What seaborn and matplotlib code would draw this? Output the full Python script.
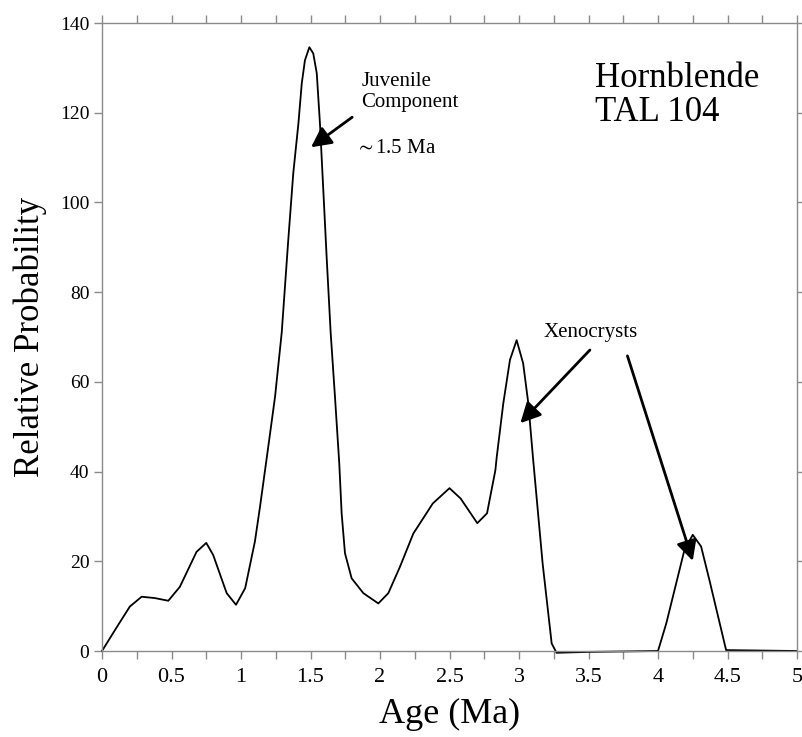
import matplotlib
matplotlib.use("Agg")
import matplotlib.pyplot as plt
import seaborn as sns
import numpy as np
import pandas as pd

# ---- data ----
age = [0.0, 0.1, 0.2, 0.285, 0.38, 0.477, 0.56, 0.68, 0.75, 0.80, 0.85, 0.897,
       0.964, 1.03, 1.10, 1.137, 1.196, 1.245, 1.293, 1.34, 1.376, 1.413,
       1.437, 1.46, 1.492, 1.52, 1.545, 1.568, 1.592, 1.616, 1.645, 1.676,
       1.707, 1.724, 1.748, 1.796, 1.88, 1.988, 2.06,
       2.144, 2.24, 2.38, 2.50, 2.58, 2.70, 2.77, 2.83, 2.84, 2.887, 2.935,
       2.983, 3.03, 3.067, 3.10, 3.17, 3.235, 3.27, 3.5, 4.0, 4.06, 4.19, 4.25,
       4.31, 4.37, 4.49, 5.0]
prob = [0.0, 5.0, 9.9, 12.1, 11.8, 11.2, 14.3, 22.1, 24.1, 21.4, 17.0, 12.9,
        10.3, 14.0, 24.4, 32.2, 45.5, 56.7, 71.0, 91.6, 106.5, 117.6,
        126.5, 131.7, 134.6, 133.2, 128.8, 117.6, 102.8, 87.9, 71.0, 56.7,
        41.8, 30.7, 21.8, 16.2, 12.9, 10.6, 12.9,
        18.8, 26.2, 32.9, 36.3, 34.0, 28.5, 30.7, 40.3, 43.3, 55.2, 64.9,
        69.3, 64.1, 55.2, 43.3, 19.5, 1.7, -0.4, -0.2, 0.0, 6.2, 22.5, 25.9,
        23.3, 15.8, 0.2, 0.0]

x_ticks = [0, 0.5, 1, 1.5, 2, 2.5, 3, 3.5, 4, 4.5, 5]
x_tick_labels = ["0", "0.5", "1", "1.5", "2", "2.5", "3", "3.5", "4", "4.5", "5"]
y_ticks = [0, 20, 40, 60, 80, 100, 120, 140]

df = pd.DataFrame({"Age": age, "Prob": prob})

sns.set_style("ticks")
plt.rcParams["font.family"] = ["Liberation Serif", "DejaVu Serif"]
plt.rcParams["mathtext.fontset"] = "stix"
plt.rcParams["text.color"] = "black"
plt.rcParams["axes.labelcolor"] = "black"
plt.rcParams["xtick.labelcolor"] = "black"
plt.rcParams["ytick.labelcolor"] = "black"

W, H = 802, 737
fig = plt.figure(figsize=(W / 100, H / 100), dpi=100)
ax = fig.add_axes([102 / W, 1 - 651 / H, (797 - 102) / W, (651 - 23) / H])

sns.lineplot(data=df, x="Age", y="Prob", ax=ax, color="black", lw=1.3,
             clip_on=False, sort=False)

ax.set_xlim(0, 5)
ax.set_ylim(0, 140)

spine_c = "#8a8a8a"
for s in ax.spines.values():
    s.set_color(spine_c)
    s.set_linewidth(1.0)
    s.set_visible(True)

ax.set_xticks(x_ticks)
ax.set_xticklabels(x_tick_labels, fontsize=16, color="black")
ax.set_xticks(np.arange(0.25, 5, 0.5), minor=True)
ax.set_yticks(y_ticks)
ax.set_yticklabels([str(v) for v in y_ticks], fontsize=14, color="black")
ax.tick_params(axis="x", which="both", direction="out", length=6, width=1,
               color=spine_c, top=True, pad=6)
ax.tick_params(axis="x", which="both", labeltop=False)
ax.tick_params(axis="y", which="both", direction="out", length=6, width=1,
               color=spine_c, right=True, labelright=False, pad=3)

ax.set_xlabel("Age (Ma)", fontsize=26, labelpad=8, color="black")
ax.set_ylabel("Relative Probability", fontsize=25, labelpad=9, color="black")

# annotations
ax.text(3.55, 131.4, "Hornblende\nTAL 104", fontsize=25, ha="left", va="top",
        linespacing=1.07, color="black")
ax.text(1.865, 129.0, "Juvenile\nComponent", fontsize=15, ha="left", va="top",
        linespacing=1.1, color="black")
ax.text(1.82, 112.0, r"$\sim$1.5 Ma", fontsize=15, ha="left", va="center",
        color="black")
ax.text(3.18, 68.9, "Xenocrysts", fontsize=15, ha="left", va="bottom",
        color="black")

arrow = dict(arrowstyle="-|>,head_length=0.55,head_width=0.28", lw=2,
             color="black", mutation_scale=22, shrinkA=0, shrinkB=0)
ax.annotate("", xy=(1.504, 112.3), xytext=(1.80, 119.0), arrowprops=arrow)
ax.annotate("", xy=(3.01, 50.8), xytext=(3.51, 67.1), arrowprops=arrow)
ax.annotate("", xy=(4.25, 20.1), xytext=(3.78, 65.8), arrowprops=arrow)

fig.savefig("out.png", dpi=100)
